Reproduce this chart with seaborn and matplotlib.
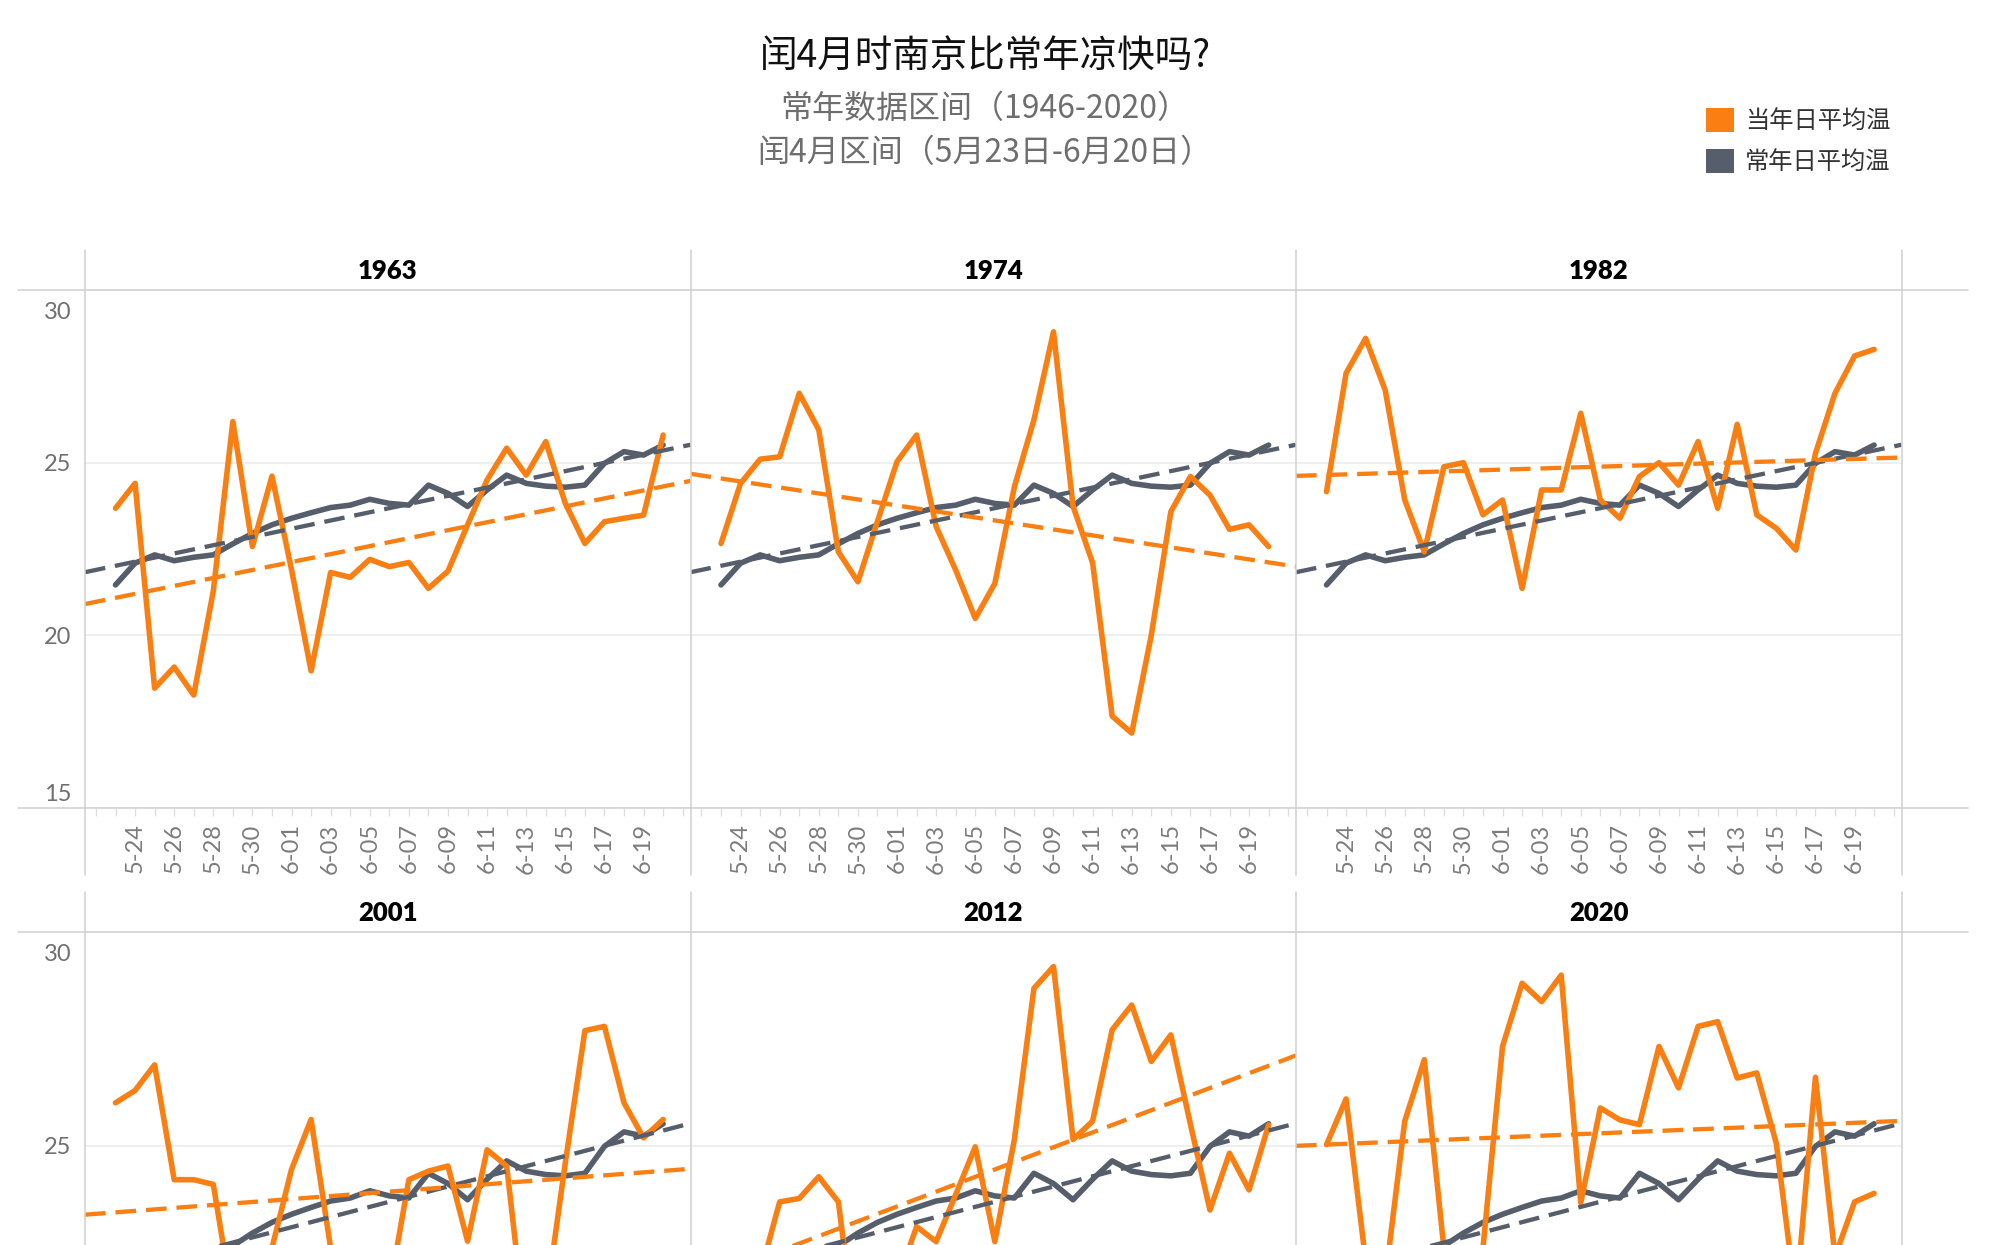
import matplotlib
matplotlib.use("Agg")
import numpy as np
import pandas as pd
import matplotlib.pyplot as plt
from matplotlib.lines import Line2D
from matplotlib.patches import Patch
from matplotlib.transforms import ScaledTranslation
import seaborn as sns

# ---------------- data ----------------
dates = ["5-23", "5-24", "5-25", "5-26", "5-27", "5-28", "5-29", "5-30", "5-31",
         "6-01", "6-02", "6-03", "6-04", "6-05", "6-06", "6-07", "6-08", "6-09",
         "6-10", "6-11", "6-12", "6-13", "6-14", "6-15", "6-16", "6-17", "6-18",
         "6-19", "6-20"]
years = ["1963", "1974", "1982", "2001", "2012", "2020"]

normal_temp = [21.46, 22.09, 22.33, 22.16, 22.26, 22.33, 22.65, 22.95, 23.20, 23.39,
               23.55, 23.70, 23.77, 23.94, 23.82, 23.77, 24.35, 24.11, 23.73, 24.21,
               24.64, 24.40, 24.32, 24.29, 24.35, 24.98, 25.32, 25.22, 25.51]

temp_1963 = [23.68, 24.40, 18.47, 19.08, 18.27, 21.28, 26.19, 22.57, 24.61, 21.90,
             18.97, 21.82, 21.68, 22.20, 21.99, 22.11, 21.36, 21.86, 23.20, 24.50,
             25.42, 24.64, 25.61, 23.82, 22.66, 23.29, 23.39, 23.48, 25.80]
temp_1974 = [22.66, 24.40, 25.10, 25.17, 27.01, 25.95, 22.42, 21.55, 23.30, 25.03,
             25.80, 23.15, 21.89, 20.49, 21.50, 24.30, 26.24, 28.79, 23.74, 22.10,
             17.66, 17.17, 20.00, 23.58, 24.60, 24.06, 23.07, 23.20, 22.57]
temp_1982 = [24.16, 27.59, 28.60, 27.10, 23.92, 22.42, 24.88, 25.00, 23.49, 23.92,
             21.36, 24.21, 24.21, 26.43, 23.92, 23.39, 24.60, 25.00, 24.35, 25.61,
             23.68, 26.11, 23.49, 23.10, 22.47, 25.27, 27.01, 28.09, 28.28]
temp_2001 = [26.00, 26.29, 26.89, 24.20, 24.20, 24.09, 21.30, 20.50, 22.60, 24.44,
             25.61, 22.60, 19.80, 19.60, 21.60, 24.20, 24.40, 24.52, 22.76, 24.90,
             24.52, 20.50, 21.30, 24.60, 27.69, 27.79, 26.00, 25.18, 25.61]
temp_2012 = [19.60, 22.50, 22.00, 23.68, 23.76, 24.27, 23.68, 20.10, 22.40, 21.80,
             23.10, 22.75, 23.85, 24.97, 22.75, 25.14, 28.68, 29.19, 25.14, 25.57,
             27.71, 28.29, 26.97, 27.59, 25.50, 23.49, 24.82, 23.96, 25.48]
temp_2020 = [25.02, 26.09, 22.30, 21.85, 25.57, 27.01, 22.60, 20.50, 22.60, 27.32,
             28.80, 28.37, 28.99, 23.66, 25.88, 25.60, 25.49, 27.32, 26.35, 27.79,
             27.90, 26.58, 26.70, 25.05, 21.40, 26.60, 22.40, 23.68, 23.88]

series_current = "当年日平均温"
series_normal = "常年日平均温"
title_text = "闰4月时南京比常年凉快吗?"
subtitle_1 = "常年数据区间（1946-2020）"
subtitle_2 = "闰4月区间（5月23日-6月20日）"

current = {"1963": temp_1963, "1974": temp_1974, "1982": temp_1982,
           "2001": temp_2001, "2012": temp_2012, "2020": temp_2020}

rows = []
for yr in years:
    for d in range(len(dates)):
        rows.append(dict(year=yr, day=d, date=dates[d], series=series_current, temp=current[yr][d]))
        rows.append(dict(year=yr, day=d, date=dates[d], series=series_normal, temp=normal_temp[d]))
df = pd.DataFrame(rows)

# ---------------- style ----------------
ORANGE = "#F97F12"
GRAY = "#565E6B"
BORDER = "#cfcfcf"
palette = {series_current: ORANGE, series_normal: GRAY}

sns.set_theme(style="white")
plt.rcParams["font.family"] = ["Lato", "Noto Sans CJK SC", "DejaVu Sans"]
CJK = ["Noto Sans CJK SC", "DejaVu Sans"]

W, H, DPI = 1993, 1245, 100
fig = plt.figure(figsize=(W / DPI, H / DPI), dpi=DPI, facecolor="white")


def rect(x0, y0, x1, y1):
    return [x0 / W, 1 - y1 / H, (x1 - x0) / W, (y1 - y0) / H]


def fline(x0, y0, x1, y1):
    fig.add_artist(Line2D([x0 / W, x1 / W], [1 - y0 / H, 1 - y1 / H],
                          transform=fig.transFigure, color=BORDER, lw=1.1, zorder=20))


col_edges = [85, 690.5, 1296, 1901.5]
row_specs = [
    dict(top=290, bottom=808, header=250, ylim=(15, 30), yt=[15, 20, 25, 30], xlab=True, vend=875),
    dict(top=932, bottom=1450, header=892, ylim=(17.87, 30), yt=[25, 30], xlab=False, vend=1245),
]
XLIM = (-1.56, 29.4)

for k, yr in enumerate(years):
    r, c = divmod(k, 3)
    spec = row_specs[r]
    ax = fig.add_axes(rect(col_edges[c], spec["top"], col_edges[c + 1], spec["bottom"]))
    ax.set_facecolor("white")
    sub = df[df.year == yr]
    ax.set_xlim(*XLIM)
    ax.set_ylim(*spec["ylim"])
    sns.lineplot(data=sub[sub.series == series_normal], x="day", y="temp", color=GRAY,
                 lw=4.0, estimator=None, ax=ax, legend=False, zorder=3)
    sns.lineplot(data=sub[sub.series == series_current], x="day", y="temp", color=ORANGE,
                 lw=4.0, estimator=None, ax=ax, legend=False, zorder=4)
    ax.set_xlim(*XLIM)
    for s in [series_normal, series_current]:
        d = sub[sub.series == s]
        sns.regplot(data=d, x="day", y="temp", scatter=False, ci=None, truncate=False, ax=ax,
                    line_kws=dict(color=palette[s], lw=3.1, dashes=(4.8, 2.3), zorder=5))
    ax.set_xlim(*XLIM)
    ax.set_ylim(*spec["ylim"])
    ax.set_xlabel("")
    ax.set_ylabel("")
    for sp in ax.spines.values():
        sp.set_visible(False)

    # y axis
    ax.set_yticks(spec["yt"])
    ax.grid(axis="y", color="#ececec", lw=1.2)
    ax.grid(axis="x", visible=False)
    ax.set_axisbelow(True)
    if c == 0:
        ax.set_yticklabels([str(v) for v in spec["yt"]])
        ax.tick_params(axis="y", length=0, pad=10, labelsize=17, labelcolor="#707070")
        ticks = ax.yaxis.get_major_ticks()
        top_lab = ticks[-1].label1
        top_lab.set_va("top")
        top_lab.set_transform(top_lab.get_transform() + ScaledTranslation(0, -0.12, fig.dpi_scale_trans))
        if spec["yt"][0] == 15:
            bot_lab = ticks[0].label1
            bot_lab.set_va("bottom")
            bot_lab.set_transform(bot_lab.get_transform() + ScaledTranslation(0, 0.03, fig.dpi_scale_trans))
    else:
        ax.tick_params(axis="y", length=0, labelleft=False)

    # x axis
    if spec["xlab"]:
        ax.set_xticks(range(1, 29, 2))
        ax.set_xticklabels(dates[1::2], rotation=90)
        ax.set_xticks(range(-1, 30), minor=True)
        ax.tick_params(axis="x", which="both", bottom=True, direction="out", length=6,
                       width=1, color="#dedede", labelsize=17, labelcolor="#7c7c7c", pad=5)
    else:
        ax.tick_params(axis="x", which="both", bottom=False, labelbottom=False)

    # header
    cx = (col_edges[c] + col_edges[c + 1]) / 2
    fig.text(cx / W, 1 - (spec["header"] + 21) / H, yr, ha="center", va="center",
             fontsize=18.5, fontweight="heavy", color="black")

# frame lines (Tableau-like panes)
for spec in row_specs:
    fline(18, spec["top"], 1968, spec["top"])
    if spec["bottom"] < H:
        fline(18, spec["bottom"], 1968, spec["bottom"])
    for xe in col_edges:
        fline(xe, spec["header"], xe, spec["vend"])

# titles
fig.text(985 / W, 1 - 56 / H, title_text, ha="center", va="center", fontsize=27,
         color="#111111", family=CJK)
fig.text(985 / W, 1 - 109 / H, subtitle_1, ha="center", va="center", fontsize=23,
         color="#6e6e6e", family=CJK)
fig.text(985 / W, 1 - 153 / H, subtitle_2, ha="center", va="center", fontsize=23,
         color="#6e6e6e", family=CJK)

# legend
handles = [Patch(facecolor=palette[s], edgecolor="none", label=s) for s in [series_current, series_normal]]
fig.legend(handles=handles, loc="upper left", bbox_to_anchor=(1706 / W, 1 - 108 / H),
           frameon=False, prop=dict(family=CJK, size=17.5), labelcolor="#333333",
           handlelength=1.15, handleheight=1.15, handletextpad=0.45, labelspacing=0.6,
           borderpad=0, borderaxespad=0)

fig.savefig("out.png", dpi=DPI, facecolor="white")
